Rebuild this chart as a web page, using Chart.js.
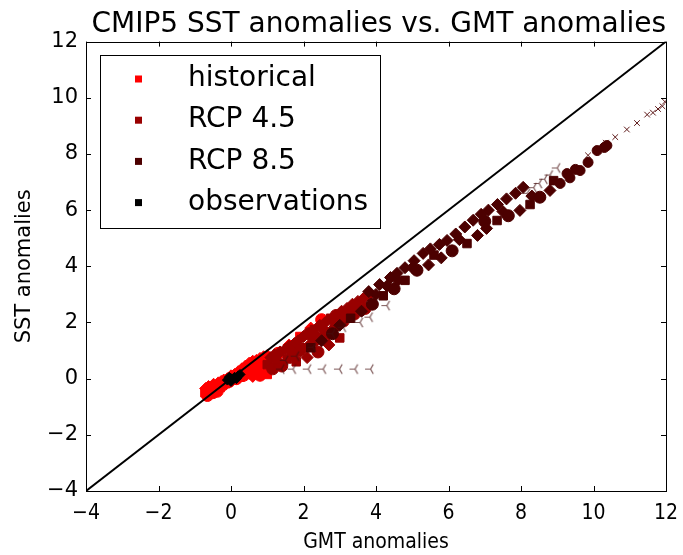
<!DOCTYPE html>
<html>
<head>
<meta charset="utf-8">
<script src="https://cdn.jsdelivr.net/npm/chart.js@4.4.1/dist/chart.umd.min.js"></script>
<style>
  body { margin: 0; background: #fff; }
</style>
</head>
<body>
<canvas id="scatter" width="683" height="555"></canvas>
<script>
// values: x = GMT anomaly, y = SST anomaly
const histX = [-0.72, -0.7, -0.65, -0.62, -0.58, -0.55, -0.5, -0.48, -0.45, -0.4, -0.38, -0.35, -0.3, -0.27, -0.22, -0.2, -0.15, -0.1, -0.05, 0.0, 0.05, 0.1, 0.15, 0.2, 0.25, 0.3, 0.35, 0.4, 0.45, 0.5, 0.55, 0.6, 0.65, 0.7, 0.75, 0.8, 0.85, 0.9, 0.95, 1.0, 1.0, 0.6, 0.8, 0.4, 0.7, 0.9, 1.3, 1.6, 1.9, 2.2, 2.5];
const histY = [-0.5, -0.35, -0.6, -0.28, -0.45, -0.3, -0.5, -0.2, -0.38, -0.25, -0.45, -0.15, -0.32, -0.1, -0.22, -0.05, -0.18, 0.0, -0.1, 0.1, -0.05, 0.15, 0.0, 0.25, 0.05, 0.35, 0.12, 0.45, 0.15, 0.55, 0.2, 0.62, 0.25, 0.65, 0.3, 0.72, 0.25, 0.78, 0.4, 0.82, 0.15, 0.08, 0.12, 0.3, 0.45, 0.55, 0.9, 1.2, 1.5, 1.8, 2.1];

const rcp45X = [1.0, 1.1, 1.15, 1.2, 1.3, 1.35, 1.4, 1.5, 1.55, 1.6, 1.7, 1.75, 1.8, 1.85, 1.9, 2.0, 2.05, 2.1, 2.15, 2.2, 2.3, 2.35, 2.4, 2.45, 2.5, 2.6, 2.65, 2.7, 2.75, 2.8, 2.9, 2.95, 3.0, 3.05, 3.1, 3.2, 3.25, 3.35, 3.4, 3.5, 3.55, 3.65, 3.7, 3.8, 1.25, 1.65, 2.25, 2.55, 2.85, 3.15, 3.45];
const rcp45Y = [0.5, 0.75, 0.35, 0.85, 0.55, 0.95, 0.45, 1.05, 0.7, 1.15, 0.85, 1.25, 0.6, 1.35, 1.0, 1.5, 1.1, 0.75, 1.6, 1.25, 1.75, 1.35, 0.95, 1.9, 1.5, 2.0, 1.6, 1.2, 2.15, 1.75, 2.25, 1.9, 1.45, 2.4, 2.05, 2.5, 2.15, 2.65, 2.3, 2.75, 2.4, 2.85, 2.5, 2.95, 0.7, 1.0, 1.55, 1.75, 2.0, 2.3, 2.55];

const rcp85UpperX = [3.8, 4.1, 4.4, 4.58, 4.8, 5.05, 5.3, 5.5, 5.75, 5.96, 6.2, 6.45, 6.68, 6.9, 7.1, 7.35, 7.6, 7.85, 8.06];
const rcp85UpperY = [3.1, 3.35, 3.6, 3.75, 3.95, 4.2, 4.46, 4.62, 4.78, 4.92, 5.15, 5.4, 5.64, 5.85, 6.0, 6.2, 6.4, 6.6, 6.81];
const rcp85LowerX = [2.2, 2.5, 2.8, 3.0, 3.3, 3.6, 3.9, 4.0, 4.2, 4.3, 4.5, 4.6, 4.8, 5.0, 5.13, 5.45, 5.6, 5.8, 6.1, 6.3, 6.51, 6.8, 7.0, 7.05, 7.34, 7.5, 7.65, 7.97, 8.25, 8.3, 8.52, 8.8, 8.9];
const rcp85LowerY = [1.1, 1.35, 1.6, 1.9, 2.15, 2.4, 2.65, 3.0, 2.95, 3.3, 3.2, 3.5, 3.5, 3.95, 3.86, 4.05, 4.4, 4.3, 4.55, 4.95, 4.81, 5.1, 5.6, 5.35, 5.63, 5.95, 5.8, 5.99, 6.2, 6.5, 6.46, 6.7, 7.05];
const rcp85CircleX = [9.08, 9.27, 9.35, 9.5, 9.63, 9.85, 10.1, 10.3, 10.37];
const rcp85CircleY = [6.95, 7.3, 7.15, 7.45, 7.41, 7.7, 8.12, 8.23, 8.3];
const rcp85CrossX = [9.85, 10.34, 10.6, 10.92, 11.2, 11.48, 11.64, 11.78, 11.9, 11.97];
const rcp85CrossY = [7.95, 8.4, 8.6, 8.87, 9.1, 9.4, 9.47, 9.6, 9.7, 9.86];

// faint tri markers (single outlying model)
const triX = [1.39, 1.71, 2.13, 2.54, 2.99, 3.42, 3.85, 1.5, 1.8, 2.26, 2.79, 3.09, 3.56, 3.83, 4.3, 8.17, 8.35, 8.5, 8.65, 8.8, 9.0];
const triY = [0.34, 0.34, 0.34, 0.34, 0.34, 0.34, 0.34, 0.65, 0.8, 1.12, 1.6, 1.83, 2.0, 2.19, 2.6, 6.6, 6.8, 6.95, 7.1, 7.25, 7.5];

const obsX = [-0.1, 0.0, 0.1, 0.2, 0.25, 0.0, 0.15, -0.05];
const obsY = [-0.05, 0.0, 0.05, 0.1, 0.15, -0.1, 0.0, 0.05];

// 1:1 reference line
const lineX = [-4, 12];
const lineY = [-4, 12];

const axisTicks = [-4, -2, 0, 2, 4, 6, 8, 10, 12];

const labels = ['historical', 'RCP 4.5', 'RCP 8.5', 'observations'];
const colors = ['#ff0000', '#990000', '#4c0000', '#000000'];

function toPoints(xs, ys) {
    return xs.map(function(x, i) { return {x: x, y: ys[i]}; });
}

// tri_left marker like matplotlib's "3"
function triMarker(color) {
    const c = document.createElement('canvas');
    c.width = 13; c.height = 13;
    const g = c.getContext('2d');
    g.strokeStyle = color;
    g.lineWidth = 1.2;
    g.beginPath();
    const cx = 6.5, cy = 6.5, r = 5.5;
    [180, 60, -60].forEach(function(a) {
        const t = a * Math.PI / 180;
        g.moveTo(cx, cy);
        g.lineTo(cx + r * Math.cos(t), cy - r * Math.sin(t));
    });
    g.stroke();
    return c;
}

const mixStyles = ['rect', 'rectRot', 'circle', 'rectRot'];

// inward ticks + full box like matplotlib axes
const frame = {
    id: 'frame',
    afterDatasetsDraw(chart) {
        const ctx = chart.ctx, a = chart.chartArea;
        const xs = chart.scales.x, ys = chart.scales.y;
        ctx.save();
        ctx.strokeStyle = '#000';
        ctx.lineWidth = 1;
        ctx.beginPath();
        axisTicks.forEach(function(v) {
            const px = Math.round(xs.getPixelForValue(v)) + 0.5;
            ctx.moveTo(px, a.bottom); ctx.lineTo(px, a.bottom - 5);
            ctx.moveTo(px, a.top); ctx.lineTo(px, a.top + 5);
            const py = Math.round(ys.getPixelForValue(v)) + 0.5;
            ctx.moveTo(a.left, py); ctx.lineTo(a.left + 5, py);
            ctx.moveTo(a.right, py); ctx.lineTo(a.right - 5, py);
        });
        ctx.stroke();
        ctx.strokeRect(Math.round(a.left) + 0.5, Math.round(a.top) + 0.5,
            Math.round(a.right - a.left), Math.round(a.bottom - a.top));
        ctx.restore();
    }
};

// boxed legend inside the axes (upper left)
const boxLegend = {
    id: 'boxLegend',
    afterDraw(chart) {
        const ctx = chart.ctx;
        ctx.save();
        ctx.fillStyle = '#fff';
        ctx.fillRect(100, 55, 280, 173);
        ctx.strokeStyle = '#000';
        ctx.lineWidth = 1;
        ctx.strokeRect(100.5, 55.5, 280, 173);
        ctx.font = '28px "DejaVu Sans"';
        ctx.textBaseline = 'middle';
        labels.forEach(function(lab, i) {
            const y = 79 + i * 41.2;
            ctx.fillStyle = colors[i];
            ctx.fillRect(135, y - 3.5, 7, 7);
            ctx.fillStyle = '#000';
            ctx.fillText(lab, 188, y);
        });
        ctx.restore();
    }
};

const yTickFont = {family: 'DejaVu Sans', size: 21};
const xTickFont = {family: '"DejaVu Sans Condensed", "DejaVu Sans"', size: 21};

const config = {
    type: 'scatter',
    data: {
        datasets: [
            {
                label: 'y = x',
                type: 'line',
                data: toPoints(lineX, lineY),
                borderColor: '#000',
                borderWidth: 2,
                pointRadius: 0,
                order: 0
            },
            {
                label: labels[3],
                data: toPoints(obsX, obsY),
                backgroundColor: colors[3],
                borderColor: colors[3],
                pointStyle: 'rectRot',
                pointRadius: 5,
                order: 1
            },
            {
                label: 'tri',
                data: toPoints(triX, triY),
                pointStyle: triMarker('rgba(70,15,15,0.7)'),
                order: 2
            },
            {
                label: 'RCP 8.5 x',
                data: toPoints(rcp85CrossX, rcp85CrossY),
                backgroundColor: colors[2],
                borderColor: 'rgba(76,0,0,0.9)',
                borderWidth: 1,
                pointStyle: 'crossRot',
                pointRadius: 4,
                order: 3
            },
            {
                label: 'RCP 8.5 o',
                data: toPoints(rcp85CircleX, rcp85CircleY),
                backgroundColor: colors[2],
                borderColor: colors[2],
                pointStyle: 'circle',
                pointRadius: 5,
                order: 4
            },
            {
                label: 'RCP 8.5 upper',
                data: toPoints(rcp85UpperX, rcp85UpperY),
                backgroundColor: colors[2],
                borderColor: colors[2],
                pointStyle: 'rectRot',
                pointRadius: 6,
                order: 5
            },
            {
                label: labels[2],
                data: toPoints(rcp85LowerX, rcp85LowerY),
                backgroundColor: colors[2],
                borderColor: colors[2],
                pointStyle: function(c) { return mixStyles[c.dataIndex % 4]; },
                pointRadius: 6,
                order: 6
            },
            {
                label: labels[1],
                data: toPoints(rcp45X, rcp45Y),
                backgroundColor: colors[1],
                borderColor: colors[1],
                pointStyle: function(c) { return mixStyles[c.dataIndex % 4]; },
                pointRadius: 6,
                order: 7
            },
            {
                label: labels[0],
                data: toPoints(histX, histY),
                backgroundColor: colors[0],
                borderColor: colors[0],
                pointStyle: function(c) { return mixStyles[c.dataIndex % 4]; },
                pointRadius: 6,
                order: 8
            }
        ]
    },
    options: {
        responsive: false,
        animation: false,
        layout: { padding: { left: 0, right: 17, top: 0, bottom: 0 } },
        plugins: {
            legend: { display: false },
            tooltip: { enabled: false },
            title: {
                display: true,
                align: 'end',
                text: 'CMIP5 SST anomalies vs. GMT anomalies',
                color: '#000',
                font: { family: 'DejaVu Sans', size: 28, weight: 'normal' },
                padding: { top: 8, bottom: 0 }
            }
        },
        scales: {
            x: {
                type: 'linear',
                min: -4,
                max: 12,
                afterBuildTicks: function(s) { s.ticks = axisTicks.map(function(v) { return {value: v}; }); },
                afterFit: function(s) { s.height = 64; s.paddingLeft = 0; s.paddingRight = 0; },
                grid: { display: false, drawTicks: false },
                border: { display: false },
                ticks: {
                    color: '#000',
                    font: xTickFont,
                    padding: 10,
                    maxRotation: 0,
                    callback: function(v) { return String(v).replace('-', '\u2212'); }
                },
                title: {
                    display: true,
                    text: 'GMT anomalies',
                    color: '#000',
                    font: xTickFont,
                    padding: { top: 0, bottom: 0 }
                }
            },
            y: {
                type: 'linear',
                min: -4,
                max: 12,
                afterBuildTicks: function(s) { s.ticks = axisTicks.map(function(v) { return {value: v}; }); },
                afterFit: function(s) { s.width = 86; s.paddingTop = 0; s.paddingBottom = 0; },
                grid: { display: false, drawTicks: false },
                border: { display: false },
                ticks: {
                    color: '#000',
                    font: yTickFont,
                    padding: 8,
                    callback: function(v) { return String(v).replace('-', '\u2212'); }
                },
                title: {
                    display: true,
                    text: 'SST anomalies',
                    color: '#000',
                    font: yTickFont,
                    padding: { top: 12, bottom: 0 }
                }
            }
        }
    },
    plugins: [frame, boxLegend]
};

new Chart(document.getElementById('scatter'), config);
</script>
</body>
</html>
